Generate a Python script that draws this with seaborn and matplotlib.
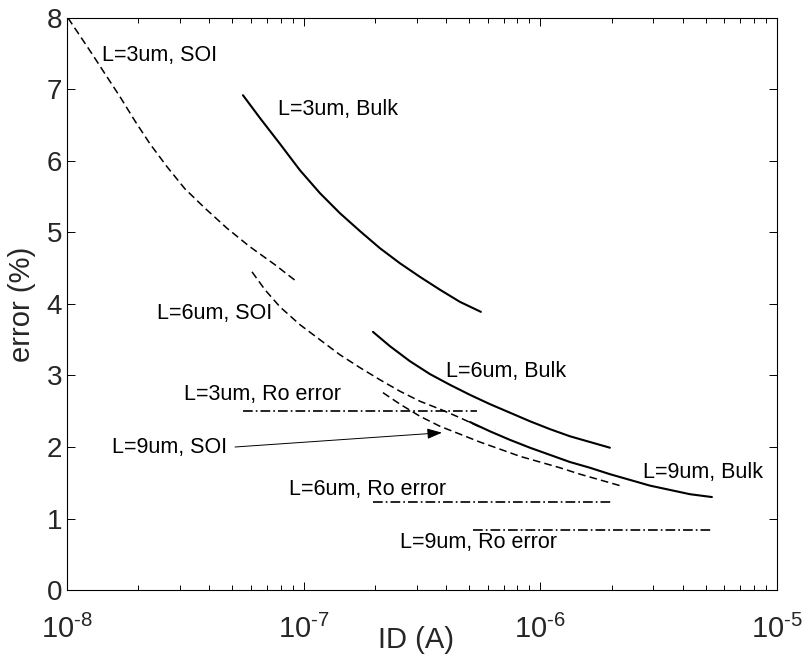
import numpy as np
import pandas as pd
import matplotlib
matplotlib.use("Agg")
import matplotlib.pyplot as plt
import seaborn as sns
from matplotlib.ticker import LogLocator, NullFormatter, FixedLocator

# ---- data: drain current ID (A) vs. matching error (%) ----
soi3_id = [1.010e-8, 1.135e-8, 1.275e-8, 1.447e-8, 1.674e-8, 1.937e-8, 2.242e-8,
           2.646e-8, 3.151e-8, 3.828e-8, 4.742e-8, 5.93e-8, 7.56e-8, 9.37e-8]
soi3_err = [8.00, 7.75, 7.50, 7.22, 6.90, 6.56, 6.24,
            5.92, 5.61, 5.34, 5.06, 4.80, 4.55, 4.31]

bulk3_id = [5.54e-8, 6.54e-8, 7.94e-8, 9.65e-8, 1.172e-7, 1.423e-7, 1.729e-7,
            2.101e-7, 2.551e-7, 3.099e-7, 3.765e-7, 4.573e-7, 5.61e-7]
bulk3_err = [6.92, 6.60, 6.24, 5.87, 5.55, 5.27, 5.02,
             4.78, 4.57, 4.38, 4.20, 4.03, 3.89]

soi6_id = [6.05e-8, 6.86e-8, 7.94e-8, 9.65e-8, 1.172e-7, 1.423e-7, 1.729e-7,
           2.101e-7, 2.551e-7, 3.099e-7, 3.765e-7, 4.573e-7, 5.55e-7]
soi6_err = [4.45, 4.20, 3.96, 3.71, 3.50, 3.29, 3.11,
            2.94, 2.78, 2.64, 2.53, 2.41, 2.28]

bulk6_id = [1.963e-7, 2.315e-7, 2.812e-7, 3.416e-7, 4.15e-7, 5.04e-7, 6.12e-7,
            7.44e-7, 9.04e-7, 1.098e-6, 1.334e-6, 1.620e-6, 1.968e-6]
bulk6_err = [3.61, 3.41, 3.20, 3.02, 2.87, 2.73, 2.60,
             2.48, 2.36, 2.25, 2.15, 2.07, 1.99]

soi9_id = [2.163e-7, 2.551e-7, 3.099e-7, 3.765e-7, 4.573e-7, 5.55e-7, 6.75e-7,
           8.20e-7, 9.96e-7, 1.210e-6, 1.470e-6, 1.786e-6, 2.169e-6]
soi9_err = [2.76, 2.60, 2.43, 2.29, 2.18, 2.07, 1.97,
            1.87, 1.79, 1.71, 1.62, 1.54, 1.46]

bulk9_id = [5.04e-7, 6.12e-7, 7.44e-7, 9.04e-7, 1.098e-6, 1.334e-6, 1.620e-6,
            1.968e-6, 2.391e-6, 2.904e-6, 3.528e-6, 4.285e-6, 5.31e-6]
bulk9_err = [2.35, 2.22, 2.10, 1.99, 1.89, 1.79, 1.71,
             1.62, 1.54, 1.46, 1.40, 1.34, 1.30]

ro3_id = [5.55e-8, 5.4e-7]
ro3_err = [2.50, 2.50]
ro6_id = [1.96e-7, 2.0e-6]
ro6_err = [1.23, 1.23]
ro9_id = [5.2e-7, 5.3e-6]
ro9_err = [0.84, 0.84]

# curve labels: text, anchor current, anchor error
label_text = ["L=3um, SOI", "L=3um, Bulk", "L=6um, SOI", "L=6um, Bulk",
              "L=3um, Ro error", "L=9um, SOI", "L=6um, Ro error",
              "L=9um, Bulk", "L=9um, Ro error"]
label_id = [1.41e-8, 7.78e-8, 2.40e-8, 3.99e-7, 3.12e-8, 1.55e-8, 8.67e-8, 2.71e-6, 2.55e-7]
label_err = [7.47, 6.72, 3.87, 3.05, 2.73, 1.99, 1.40, 1.64, 0.67]

# arrow from the "L=9um, SOI" label to its curve
arrow_from = (5.13e-8, 2.00)
arrow_to = (3.84e-7, 2.20)

xtick_vals = [1e-8, 1e-7, 1e-6, 1e-5]
xtick_labels = [r"$\mathdefault{10^{\text{-}8}}$", r"$\mathdefault{10^{\text{-}7}}$",
                r"$\mathdefault{10^{\text{-}6}}$", r"$\mathdefault{10^{\text{-}5}}$"]
ytick_vals = [0, 1, 2, 3, 4, 5, 6, 7, 8]

# ---- styling ----
sns.set_style("ticks")
plt.rcParams["font.family"] = ["Liberation Sans", "DejaVu Sans"]
plt.rcParams["mathtext.fontset"] = "custom"
plt.rcParams["mathtext.rm"] = "Liberation Sans"
plt.rcParams["mathtext.it"] = "Liberation Sans:italic"
plt.rcParams["mathtext.bf"] = "Liberation Sans:bold"
plt.rcParams["lines.scale_dashes"] = False

fig = plt.figure(figsize=(8.05, 6.56), dpi=100)
ax = fig.add_axes([0.0832, 0.1006, 0.8820, 0.8720])

DASHED = (5.5, 3.0)
DASHDOT = (7.0, 2.2, 1.2, 2.2)

series = [
    (soi3_id, soi3_err, DASHED, 1.1),
    (bulk3_id, bulk3_err, None, 1.5),
    (soi6_id, soi6_err, DASHED, 1.1),
    (bulk6_id, bulk6_err, None, 1.5),
    (soi9_id, soi9_err, DASHED, 1.1),
    (bulk9_id, bulk9_err, None, 1.5),
    (ro3_id, ro3_err, DASHDOT, 1.2),
    (ro6_id, ro6_err, DASHDOT, 1.2),
    (ro9_id, ro9_err, DASHDOT, 1.2),
]

for xs, ys, dash, lw in series:
    df = pd.DataFrame({"ID": xs, "err": ys})
    sns.lineplot(data=df, x="ID", y="err", ax=ax, color="black", lw=lw,
                 sort=False, estimator=None)
    line = ax.lines[-1]
    if dash is not None:
        line.set_dashes(dash)

ax.set_xscale("log")
ax.set_xlim(1e-8, 1e-5)
ax.set_ylim(0, 8)

for txt, xi, yi in zip(label_text, label_id, label_err):
    ax.text(xi, yi, txt, fontsize=15.5, ha="left", va="center", color="black")

ax.annotate("", xy=arrow_to, xytext=arrow_from,
            arrowprops=dict(arrowstyle="-|>,head_length=0.45,head_width=0.16",
                            color="black", lw=0.7, mutation_scale=20,
                            shrinkA=0, shrinkB=0))

# ---- axes ----
ax.xaxis.set_major_locator(FixedLocator(xtick_vals))
ax.set_xticklabels(xtick_labels)
ax.xaxis.set_minor_locator(LogLocator(base=10, subs=np.arange(2, 10)))
ax.xaxis.set_minor_formatter(NullFormatter())
ax.set_yticks(ytick_vals)
ax.set_yticklabels([str(v) for v in ytick_vals])

ax.tick_params(which="both", direction="in", top=True, right=True,
               color="black", width=0.7)
ax.tick_params(which="major", length=6)
ax.tick_params(which="minor", length=3.5)
ax.tick_params(axis="x", which="major", labelsize=21, pad=18)
ax.tick_params(axis="y", which="major", labelsize=20, pad=3.5)

for s in ax.spines.values():
    s.set_linewidth(0.8)
    s.set_color("black")

ax.set_xlabel("ID (A)", fontsize=21)
ax.set_ylabel("error (%)", fontsize=21)
ax.xaxis.set_label_coords(0.492, -0.063)
ax.yaxis.set_label_coords(-0.044, 0.5)

fig.savefig("out.png", dpi=100)
